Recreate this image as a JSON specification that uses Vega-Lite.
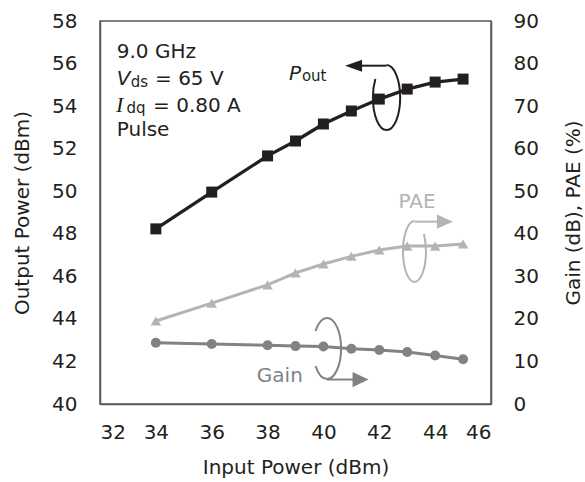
{
  "$schema": "https://vega.github.io/schema/vega-lite/v6.json",
  "width": 391,
  "height": 383,
  "autosize": "none",
  "padding": {"left": 100, "top": 21, "right": 94, "bottom": 78},
  "config": {
    "view": {"stroke": "#58595b", "strokeWidth": 1.5},
    "font": "DejaVu Sans",
    "axis": {
      "grid": false,
      "ticks": false,
      "labelFont": "DejaVu Sans",
      "labelFontSize": 20,
      "labelColor": "#231f20",
      "titleFont": "DejaVu Sans",
      "titleFontSize": 20,
      "titleFontWeight": "normal",
      "titleColor": "#231f20",
      "domainColor": "#58595b",
      "domainWidth": 1.5
    }
  },
  "datasets": {
    "series": [
      {"pin": 34, "pout": 48.23, "pae": 19.5, "gain": 14.4},
      {"pin": 36, "pout": 49.96, "pae": 23.7, "gain": 14.1},
      {"pin": 38, "pout": 51.66, "pae": 28.0, "gain": 13.8},
      {"pin": 39, "pout": 52.36, "pae": 30.8, "gain": 13.6},
      {"pin": 40, "pout": 53.16, "pae": 32.9, "gain": 13.5},
      {"pin": 41, "pout": 53.77, "pae": 34.7, "gain": 13.0},
      {"pin": 42, "pout": 54.33, "pae": 36.2, "gain": 12.7},
      {"pin": 43, "pout": 54.80, "pae": 37.1, "gain": 12.2},
      {"pin": 44, "pout": 55.13, "pae": 37.1, "gain": 11.4},
      {"pin": 45, "pout": 55.27, "pae": 37.6, "gain": 10.5}
    ],
    "xTicks": [{"pin": 34}, {"pin": 36}, {"pin": 38}, {"pin": 40}, {"pin": 42}, {"pin": 44}],
    "yTicks": [{"pout": 42}, {"pout": 44}, {"pout": 46}, {"pout": 48}, {"pout": 50}, {"pout": 52}, {"pout": 54}, {"pout": 56}],
    "infoText": [
      {"pin": 32.6, "pout": 56.25, "label": "9.0 GHz"},
      {"pin": 33.97, "pout": 54.99, "label": "= 65 V"},
      {"pin": 33.9, "pout": 53.74, "label": "= 0.80 A"},
      {"pin": 32.6, "pout": 52.6, "label": "Pulse"}
    ],
    "italicSans": [
      {"pin": 32.6, "pout": 54.99, "label": "V"},
      {"pin": 38.77, "pout": 55.23, "label": "P"}
    ],
    "italicSerif": [
      {"pin": 32.57, "pout": 53.74, "label": "I"}
    ],
    "subscripts": [
      {"pin": 33.1, "pout": 54.9, "label": "ds"},
      {"pin": 32.95, "pout": 53.66, "label": "dq"},
      {"pin": 39.23, "pout": 55.16, "label": "out"}
    ],
    "paeLabel": [{"pin": 43.35, "pout": 49.21, "label": "PAE"}],
    "gainLabel": [{"pin": 38.44, "pout": 41.05, "label": "Gain"}],
    "poutLoop": [{"pin": 42.26, "pout": 54.4}],
    "paeLoop": [{"pin": 43.26, "pout": 47.17}],
    "gainLoop": [{"pin": 40.13, "pout": 42.61}],
    "poutArrow": [{"pin": 41.38, "pin2": 42.26, "pout": 55.9}],
    "paeArrow": [{"pin": 43.27, "pin2": 44.07, "pout": 48.57}],
    "gainArrow": [{"pin": 40.13, "pin2": 41.06, "pout": 41.15}],
    "poutHead": [{"pin": 41.08, "pout": 55.9}],
    "paeHead": [{"pin": 44.35, "pout": 48.57}],
    "gainHead": [{"pin": 41.33, "pout": 41.15}]
  },
  "encoding": {
    "x": {
      "field": "pin",
      "type": "quantitative",
      "scale": {"domain": [32, 46], "nice": false, "zero": false},
      "axis": {
        "title": "Input Power (dBm)",
        "values": [32, 34, 36, 38, 40, 42, 44, 46],
        "labelPadding": 18,
        "titlePadding": 15
      }
    }
  },
  "layer": [
    {
      "encoding": {
        "y": {
          "field": "pout",
          "type": "quantitative",
          "scale": {"domain": [40, 58], "nice": false, "zero": false},
          "axis": {
            "title": "Output Power (dBm)",
            "orient": "left",
            "values": [40, 42, 44, 46, 48, 50, 52, 54, 56, 58],
            "labelPadding": 23,
            "titlePadding": 19
          }
        }
      },
      "layer": [
        {"data": {"name": "xTicks"}, "mark": {"type": "rule", "color": "#58595b", "strokeWidth": 1.2}, "encoding": {"y": {"datum": 40}, "y2": {"datum": 40.33}}},
        {"data": {"name": "yTicks"}, "mark": {"type": "rule", "color": "#58595b", "strokeWidth": 1.2}, "encoding": {"x": {"datum": 32}, "x2": {"datum": 32.22}}},
        {"data": {"name": "yTicks"}, "mark": {"type": "rule", "color": "#58595b", "strokeWidth": 1.2}, "encoding": {"x": {"datum": 45.78}, "x2": {"datum": 46}}},
        {"data": {"name": "series"}, "mark": {"type": "line", "color": "#231f20", "strokeWidth": 3.3}},
        {"data": {"name": "series"}, "mark": {"type": "point", "shape": "square", "filled": true, "opacity": 1, "size": 121, "color": "#231f20"}},
        {"data": {"name": "poutLoop"}, "mark": {"type": "point", "filled": false, "opacity": 1, "stroke": "#231f20", "strokeWidth": 2, "size": 4225,
          "shape": "M0,-1C0.232,-1 0.42,-0.552 0.42,0C0.42,0.552 0.232,1 0,1C-0.232,1 -0.42,0.552 -0.42,0C-0.42,-0.205 -0.394,-0.406 -0.344,-0.574"}},
        {"data": {"name": "paeLoop"}, "mark": {"type": "point", "filled": false, "opacity": 1, "stroke": "#b4b4b4", "strokeWidth": 2, "size": 3721,
          "shape": "M0,-1C-0.208,-1 -0.377,-0.552 -0.377,0C-0.377,0.552 -0.208,1 0,1C0.208,1 0.377,0.552 0.377,0C0.377,-0.205 0.353,-0.406 0.309,-0.574"}},
        {"data": {"name": "gainLoop"}, "mark": {"type": "point", "filled": false, "opacity": 1, "stroke": "#808285", "strokeWidth": 2, "size": 3721,
          "shape": "M-0.377,-0.574C-0.291,-0.841 -0.15,-1 0,-1C0.254,-1 0.46,-0.552 0.46,0C0.46,0.552 0.254,1 0,1C-0.15,1 -0.291,0.841 -0.377,0.574"}},
        {"data": {"name": "poutArrow"}, "mark": {"type": "rule", "color": "#231f20", "strokeWidth": 2}, "encoding": {"x2": {"field": "pin2"}}},
        {"data": {"name": "paeArrow"}, "mark": {"type": "rule", "color": "#b4b4b4", "strokeWidth": 2}, "encoding": {"x2": {"field": "pin2"}}},
        {"data": {"name": "gainArrow"}, "mark": {"type": "rule", "color": "#808285", "strokeWidth": 2}, "encoding": {"x2": {"field": "pin2"}}},
        {"data": {"name": "poutHead"}, "mark": {"type": "point", "filled": true, "opacity": 1, "color": "#231f20", "size": 289, "shape": "M-1,0L1,-0.7L1,0.7Z"}},
        {"data": {"name": "paeHead"}, "mark": {"type": "point", "filled": true, "opacity": 1, "color": "#b4b4b4", "size": 256, "shape": "M1,0L-1,-0.9L-1,0.9Z"}},
        {"data": {"name": "gainHead"}, "mark": {"type": "point", "filled": true, "opacity": 1, "color": "#808285", "size": 256, "shape": "M1,0L-1,-0.95L-1,0.95Z"}},
        {"data": {"name": "infoText"}, "mark": {"type": "text", "align": "left", "baseline": "alphabetic", "font": "DejaVu Sans", "fontSize": 20, "color": "#231f20"}, "encoding": {"text": {"field": "label"}}},
        {"data": {"name": "italicSans"}, "mark": {"type": "text", "align": "left", "baseline": "alphabetic", "font": "DejaVu Sans", "fontStyle": "italic", "fontSize": 20, "color": "#231f20"}, "encoding": {"text": {"field": "label"}}},
        {"data": {"name": "italicSerif"}, "mark": {"type": "text", "align": "left", "baseline": "alphabetic", "font": "Liberation Serif", "fontStyle": "italic", "fontSize": 22, "color": "#231f20"}, "encoding": {"text": {"field": "label"}}},
        {"data": {"name": "subscripts"}, "mark": {"type": "text", "align": "left", "baseline": "alphabetic", "font": "DejaVu Sans", "fontSize": 15, "color": "#231f20"}, "encoding": {"text": {"field": "label"}}},
        {"data": {"name": "paeLabel"}, "mark": {"type": "text", "align": "center", "baseline": "alphabetic", "font": "DejaVu Sans", "fontSize": 20, "color": "#b4b4b4"}, "encoding": {"text": {"field": "label"}}},
        {"data": {"name": "gainLabel"}, "mark": {"type": "text", "align": "center", "baseline": "alphabetic", "font": "DejaVu Sans", "fontSize": 20, "color": "#808285"}, "encoding": {"text": {"field": "label"}}}
      ]
    },
    {
      "data": {"name": "series"},
      "layer": [
        {"mark": {"type": "line", "color": "#b4b4b4", "strokeWidth": 3},
          "encoding": {"y": {"field": "pae", "type": "quantitative", "scale": {"domain": [0, 90], "nice": false}, "axis": {"title": "Gain (dB), PAE (%)", "orient": "right", "values": [0, 10, 20, 30, 40, 50, 60, 70, 80, 90], "labelPadding": 22, "titlePadding": 45, "titleAngle": 270}}}},
        {"mark": {"type": "point", "shape": "triangle-up", "filled": true, "opacity": 1, "size": 110, "color": "#b4b4b4"},
          "encoding": {"y": {"field": "pae", "type": "quantitative", "scale": {"domain": [0, 90], "nice": false}, "axis": {"title": "Gain (dB), PAE (%)", "orient": "right", "values": [0, 10, 20, 30, 40, 50, 60, 70, 80, 90], "labelPadding": 22, "titlePadding": 45, "titleAngle": 270}}}},
        {"mark": {"type": "line", "color": "#808285", "strokeWidth": 3},
          "encoding": {"y": {"field": "gain", "type": "quantitative", "scale": {"domain": [0, 90], "nice": false}, "axis": {"title": "Gain (dB), PAE (%)", "orient": "right", "values": [0, 10, 20, 30, 40, 50, 60, 70, 80, 90], "labelPadding": 22, "titlePadding": 45, "titleAngle": 270}}}},
        {"mark": {"type": "point", "shape": "circle", "filled": true, "opacity": 1, "size": 100, "color": "#808285"},
          "encoding": {"y": {"field": "gain", "type": "quantitative", "scale": {"domain": [0, 90], "nice": false}, "axis": {"title": "Gain (dB), PAE (%)", "orient": "right", "values": [0, 10, 20, 30, 40, 50, 60, 70, 80, 90], "labelPadding": 22, "titlePadding": 45, "titleAngle": 270}}}}
      ]
    }
  ],
  "resolve": {"scale": {"y": "independent"}}
}
